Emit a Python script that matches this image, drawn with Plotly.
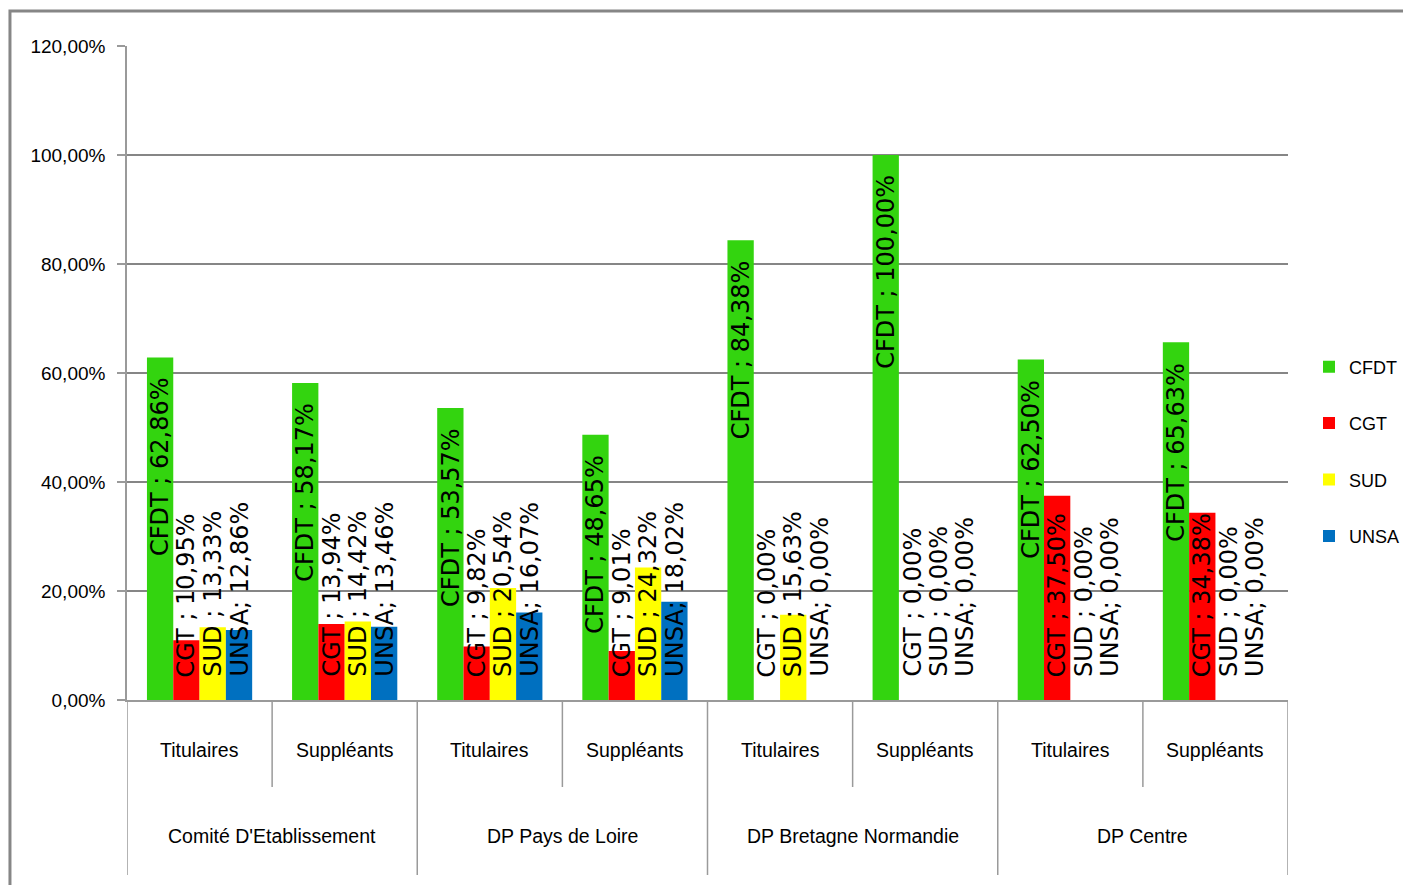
import plotly.graph_objects as go

# ---- data ----
groups = ["Comité D'Etablissement", "DP Pays de Loire", "DP Bretagne Normandie", "DP Centre"]
subcats = ["Titulaires", "Suppléants"]
series_names = ["CFDT", "CGT", "SUD", "UNSA"]
cfdt = [62.86, 58.17, 53.57, 48.65, 84.38, 100.00, 62.50, 65.63]
cgt = [10.95, 13.94, 9.82, 9.01, 0.00, 0.00, 37.50, 34.38]
sud = [13.33, 14.42, 20.54, 24.32, 15.63, 0.00, 0.00, 0.00]
unsa = [12.86, 13.46, 16.07, 18.02, 0.00, 0.00, 0.00, 0.00]
label_prefix = ["CFDT ; ", "CGT ; ", "SUD ; ", "UNSA; "]
y_tickvals = [0, 20, 40, 60, 80, 100, 120]
y_ticktext = ["0,00%", "20,00%", "40,00%", "60,00%", "80,00%", "100,00%", "120,00%"]

# ---- styles ----
colors = ["#33d40f", "#ff0000", "#ffff00", "#0070c0"]
SANS = "Liberation Sans, Arial, sans-serif"
LABEL_FONT = dict(family="DejaVu Sans", size=24, color="black")
GRID = "#868686"
BARGAP = 0.275

all_series = [cfdt, cgt, sud, unsa]
n_cat = len(groups) * len(subcats)
xpos = list(range(n_cat))
sub_labels = [subcats[i % len(subcats)] for i in range(n_cat)]

fig = go.Figure()
for name, vals, col in zip(series_names, all_series, colors):
    fig.add_trace(go.Bar(x=xpos, y=vals, name=name, marker_color=col,
                         marker_line_width=0, legendgroup=name))

# data labels (rotated), positioned through the x/y scales
bw = (1 - BARGAP) / len(all_series)
annotations = []
for i, (vals, pre) in enumerate(zip(all_series, label_prefix)):
    for c, v in enumerate(vals):
        xa = c + (i - (len(all_series) - 1) / 2) * bw
        txt = pre + ("%.2f" % v).replace(".", ",") + "%"
        if v >= 40:
            annotations.append(dict(x=xa, y=v, xref="x", yref="y", text=txt, textangle=-90,
                                    showarrow=False, xanchor="center", yanchor="top",
                                    yshift=-18, font=LABEL_FONT))
        else:
            annotations.append(dict(x=xa, y=0, xref="x", yref="y", text=txt, textangle=-90,
                                    showarrow=False, xanchor="center", yanchor="bottom",
                                    yshift=21, font=LABEL_FONT))

# category axis labels
for c in xpos:
    annotations.append(dict(x=c, y=-0.0765, xref="x", yref="paper", text=sub_labels[c],
                            showarrow=False, xanchor="center", yanchor="middle",
                            font=dict(family=SANS, size=19.5, color="black")))
for g, gname in enumerate(groups):
    gc = g * len(subcats) + (len(subcats) - 1) / 2
    annotations.append(dict(x=gc, y=-0.208, xref="x", yref="paper", text=gname,
                            showarrow=False, xanchor="center", yanchor="middle",
                            font=dict(family=SANS, size=19.5, color="black")))

shapes = []
# separators
for b in range(n_cat + 1):
    xb = b - 0.5
    outer = (b % len(subcats) == 0)
    shapes.append(dict(type="line", xref="x", yref="paper", x0=xb, x1=xb,
                       y0=0, y1=(-0.2676 if outer else -0.133),
                       line=dict(color="#9a9a9a", width=1.5)))
# outer chart frame
shapes.append(dict(type="rect", xref="paper", yref="paper",
                   x0=-0.1008, x1=1.108, y0=-0.32, y1=1.0535,
                   line=dict(color=GRID, width=3), fillcolor="rgba(0,0,0,0)", layer="below"))

fig.update_layout(
    width=1403, height=885,
    margin=dict(l=127, r=115, t=46, b=185, autoexpand=False),
    paper_bgcolor="white", plot_bgcolor="white",
    barmode="group", bargap=BARGAP, bargroupgap=0,
    annotations=annotations, shapes=shapes,
    showlegend=True,
    legend=dict(x=(1309 - 127) / 1161, xanchor="left", y=0.38, yanchor="middle",
                font=dict(family=SANS, size=18, color="black"),
                traceorder="grouped", tracegroupgap=30, bgcolor="rgba(0,0,0,0)"),
)
fig.update_xaxes(range=[-0.5, n_cat - 0.5], showticklabels=False, ticks="",
                 showgrid=False, zeroline=False, showline=True, linecolor="#9a9a9a", linewidth=1.5)
fig.update_yaxes(range=[0, 120], tickvals=y_tickvals, ticktext=y_ticktext,
                 showgrid=True, gridcolor=GRID, gridwidth=2, zeroline=False,
                 showline=True, linecolor="#9a9a9a", linewidth=1.5,
                 ticks="outside", ticklen=8, tickcolor="#9a9a9a", tickwidth=1.5,
                 ticklabelstandoff=8,
                 tickfont=dict(family=SANS, size=19, color="black"))

fig.write_html("out.html", config={"displayModeBar": False},
               post_script="document.body.style.margin='0';")
